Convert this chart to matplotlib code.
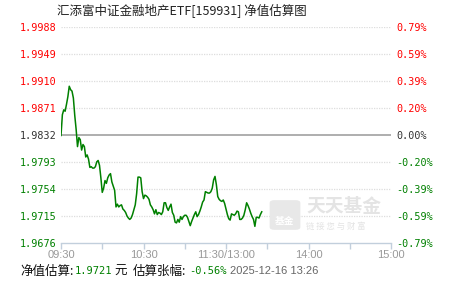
import matplotlib
matplotlib.use("Agg")
import matplotlib.pyplot as plt
from matplotlib.patches import FancyBboxPatch

W, H = 451, 281

# 每分钟估算净值 09:30-11:30, 13:01-13:26
nav = [
    1.9831, 1.9861, 1.9868, 1.9866, 1.9876, 1.9887, 1.9902, 1.9897, 1.9895, 1.9885,
    1.9860, 1.9840, 1.9815, 1.9828, 1.9825, 1.9810, 1.9818, 1.9815, 1.9800, 1.9803,
    1.9797, 1.9785, 1.9786, 1.9784, 1.9784, 1.9786, 1.9793, 1.9795, 1.9788, 1.9770,
    1.9749, 1.9755, 1.9766, 1.9762, 1.9770, 1.9774, 1.9776, 1.9764, 1.9758, 1.9752,
    1.9728, 1.9732, 1.9728, 1.9730, 1.9731, 1.9725, 1.9723, 1.9720, 1.9715, 1.9712,
    1.9710, 1.9712, 1.9717, 1.9724, 1.9731, 1.9747, 1.9771, 1.9771, 1.9770, 1.9750,
    1.9740, 1.9745, 1.9744, 1.9742, 1.9739, 1.9731, 1.9728, 1.9724, 1.9718, 1.9724,
    1.9717, 1.9720, 1.9719, 1.9717, 1.9721, 1.9734, 1.9734, 1.9727, 1.9723, 1.9728,
    1.9732, 1.9720, 1.9716, 1.9706, 1.9705, 1.9710, 1.9706, 1.9714, 1.9710, 1.9714,
    1.9716, 1.9716, 1.9713, 1.9707, 1.9701, 1.9707, 1.9712, 1.9717, 1.9721, 1.9714,
    1.9717, 1.9722, 1.9728, 1.9735, 1.9738, 1.9750, 1.9749, 1.9748, 1.9748, 1.9750,
    1.9755, 1.9767, 1.9772, 1.9760, 1.9743, 1.9739, 1.9737, 1.9736, 1.9738, 1.9733,
    1.9725, 1.9717, 1.9711, 1.9709, 1.9718, 1.9717, 1.9716, 1.9718, 1.9722, 1.9721,
    1.9710, 1.9710, 1.9712, 1.9716, 1.9724, 1.9734, 1.9730, 1.9725, 1.9719, 1.9714,
    1.9710, 1.9700, 1.9713, 1.9713, 1.9712, 1.9717, 1.9721,
]
minutes = list(range(len(nav)))

base = 1.9832
y_ticks = [1.9988, 1.9949, 1.9910, 1.9871, 1.9832, 1.9793, 1.9754, 1.9715, 1.9676]
pct_labels = ["0.79%", "0.59%", "0.39%", "0.20%", "0.00%",
              "-0.20%", "-0.39%", "-0.59%", "-0.79%"]
x_ticks = [0, 30, 60, 90, 120, 150, 180, 210, 240]
x_labels = ["09:30", "", "10:30", "", "11:30/13:00", "", "14:00", "", "15:00"]

RED, GREEN, DARK = "#ff0000", "#008000", "#333333"
MONO = "DejaVu Sans Mono"
CJK = ["Noto Sans CJK SC", "DejaVu Sans"]


def px(x, y):
    return x / W, 1 - y / H


def tick_color(v):
    if v > base + 1e-6:
        return RED
    if v < base - 1e-6:
        return GREEN
    return DARK


fig = plt.figure(figsize=(W / 100, H / 100), dpi=100)
fig.patch.set_facecolor("white")
ax = fig.add_axes([61 / W, 1 - 243 / H, 330 / W, (243 - 26.6) / H])

# 水印
wm = FancyBboxPatch(px(271, 229), 28 / W, 28 / H, boxstyle="round,pad=0.003,rounding_size=0.01",
                    transform=fig.transFigure, facecolor="#e8e8e8", edgecolor="none", zorder=0)
fig.patches.append(wm)
fig.text(*px(285, 221), "基金", color="white", fontsize=7, family=CJK, weight="bold",
         ha="center", va="center")
fig.text(*px(306, 207), "天天基金", color="#e4e4e4", fontsize=13.5, family=CJK, weight="bold",
         ha="left", va="center")
fig.text(*px(306, 226), "链 接 您 与 财 富", color="#e4e4e4", fontsize=6, family=CJK,
         ha="left", va="center")

ax.set_facecolor("none")
for v in y_ticks:
    if abs(v - base) < 1e-6:
        ax.axhline(v, color="#999999", lw=1.1, zorder=1)
    elif v != y_ticks[-1]:
        ax.axhline(v, color="#dddddd", lw=0.9, ls=(0, (1, 1)), zorder=1)

ax.plot(minutes, nav, color=GREEN, lw=1.1, zorder=3)

ax.set_xlim(0, 240)
ax.set_ylim(y_ticks[-1], y_ticks[0])
for s in ["top", "left", "right"]:
    ax.spines[s].set_visible(False)
ax.spines["bottom"].set_color("#c2cfdc")
ax.spines["bottom"].set_linewidth(1)

ax.set_xticks(x_ticks)
ax.set_xticklabels(x_labels, fontsize=8, color="#999999", family="Liberation Sans")
ax.tick_params(axis="x", length=4, width=1, color="#c2cfdc", pad=1)

ax.set_yticks(y_ticks)
ax.set_yticklabels([f"{v:.4f}" for v in y_ticks], family=MONO, fontsize=7.3)
ax.tick_params(axis="y", length=0, pad=3)
for lab, v in zip(ax.get_yticklabels(), y_ticks):
    lab.set_color(tick_color(v))

ax2 = ax.twinx()
ax2.set_ylim(ax.get_ylim())
ax2.set_yticks(y_ticks)
ax2.set_yticklabels(pct_labels, family=MONO, fontsize=7.3)
ax2.tick_params(axis="y", length=0, pad=4)
for s in ["top", "left", "right", "bottom"]:
    ax2.spines[s].set_visible(False)
for lab, v in zip(ax2.get_yticklabels(), y_ticks):
    lab.set_color(tick_color(v))

# 标题
fig.text(*px(57, 11), "汇添富中证金融地产ETF[159931] 净值估算图", fontsize=9, family=CJK,
         color="#222222", ha="left", va="center")

# 底部信息
yb = 271.5
fig.text(*px(20, yb), "净值估算:", fontsize=9, family=CJK, color="#111111", va="center")
fig.text(*px(75, yb), "1.9721", fontsize=7.5, family=MONO, color=GREEN, va="center")
fig.text(*px(114, yb), "元", fontsize=9, family=CJK, color="#111111", va="center")
fig.text(*px(133, yb), "估算张幅:", fontsize=9, family=CJK, color="#111111", va="center")
fig.text(*px(189, yb), "-0.56%", fontsize=7.5, family=MONO, color=GREEN, va="center")
fig.text(*px(230, yb), "2025-12-16 13:26", fontsize=8, family="Liberation Sans",
         color="#666666", va="center")

fig.savefig("out.png", dpi=100)
